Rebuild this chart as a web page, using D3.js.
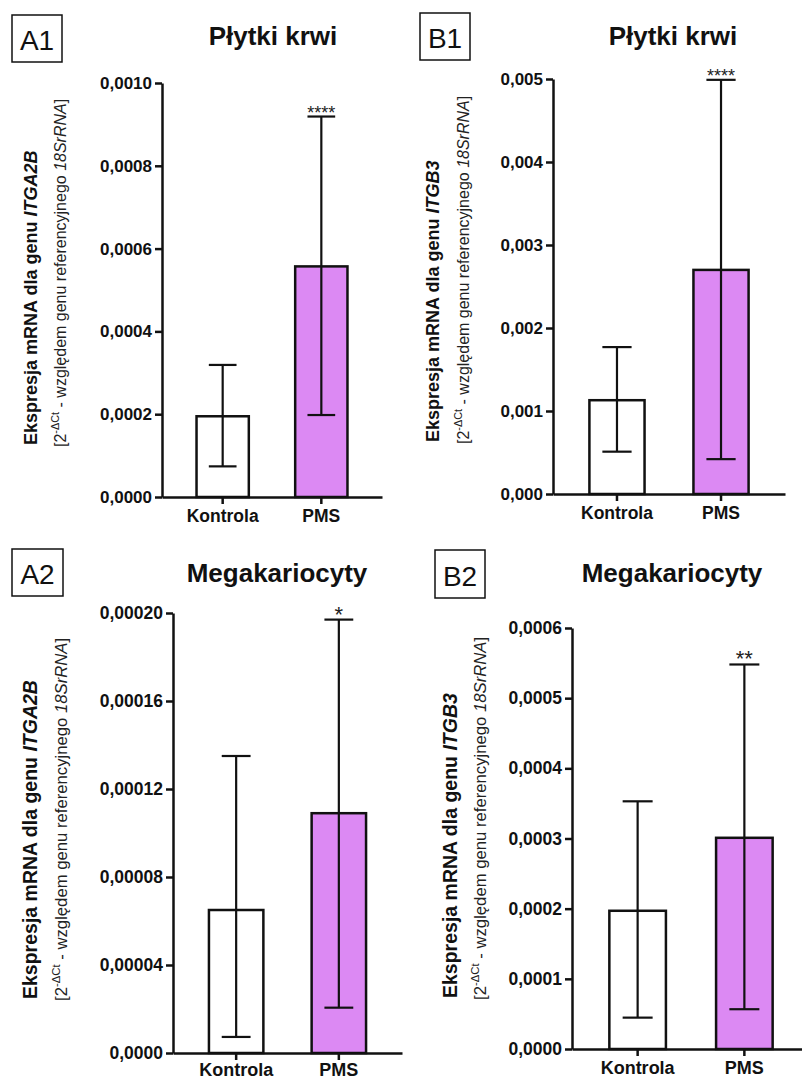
<!DOCTYPE html>
<html>
<head>
<meta charset="utf-8">
<script src="https://cdn.jsdelivr.net/npm/d3@7"></script>
<style>
  body { margin: 0; background: #fff; }
  svg { display: block; font-family: "Liberation Sans", Arial, sans-serif; }
</style>
</head>
<body>
<svg id="fig" width="802" height="1080"></svg>
<script>
var groups = ["Kontrola", "PMS"];

// A1: ITGA2B, płytki krwi
var a1Mean = [0.000195, 0.000557];
var a1Low = [0.000074, 0.000198];
var a1High = [0.000319, 0.000919];
var a1Ticks = [0, 0.0002, 0.0004, 0.0006, 0.0008, 0.0010];
var a1Labels = ["0,0000", "0,0002", "0,0004", "0,0006", "0,0008", "0,0010"];

// B1: ITGB3, płytki krwi
var b1Mean = [0.00113, 0.00270];
var b1Low = [0.00051, 0.00042];
var b1High = [0.00177, 0.00499];
var b1Ticks = [0, 0.001, 0.002, 0.003, 0.004, 0.005];
var b1Labels = ["0,000", "0,001", "0,002", "0,003", "0,004", "0,005"];

// A2: ITGA2B, megakariocyty
var a2Mean = [0.000065, 0.000109];
var a2Low = [0.0000073, 0.0000206];
var a2High = [0.000135, 0.000197];
var a2Ticks = [0, 0.00004, 0.00008, 0.00012, 0.00016, 0.00020];
var a2Labels = ["0,0000", "0,00004", "0,00008", "0,00012", "0,00016", "0,00020"];

// B2: ITGB3, megakariocyty
var b2Mean = [0.000197, 0.000301];
var b2Low = [0.0000447, 0.0000567];
var b2High = [0.000353, 0.000548];
var b2Ticks = [0, 0.0001, 0.0002, 0.0003, 0.0004, 0.0005, 0.0006];
var b2Labels = ["0,0000", "0,0001", "0,0002", "0,0003", "0,0004", "0,0005", "0,0006"];

var stars = ["****", "****", "*", "**"];
var fills = ["#ffffff", "#dc89f3"];

var panels = [
  {tag: "A1", title: "Płytki krwi", gene: "ITGA2B", mean: a1Mean, low: a1Low, high: a1High,
   ticks: a1Ticks, labels: a1Labels, star: stars[0],
   x0: 162, x1: 382, y0: 497, y1: 83, outer: 0.35, xPad: 6,
   box: [12, 15, 50, 47], tagY: 50, titleX: 273, titleY: 45,
   lab1X: 37, lab2X: 66, labY: 445, f1: 18, f2: 16, tick: 17, starSize: 18, titleSize: 26},
  {tag: "B1", title: "Płytki krwi", gene: "ITGB3", mean: b1Mean, low: b1Low, high: b1High,
   ticks: b1Ticks, labels: b1Labels, star: stars[1],
   x0: 553, x1: 785, y0: 494, y1: 79, outer: 0.35, xPad: 6,
   box: [420, 13, 50, 47], tagY: 48, titleX: 673, titleY: 45,
   lab1X: 439, lab2X: 469, labY: 442, f1: 18, f2: 16, tick: 17, starSize: 18, titleSize: 26},
  {tag: "A2", title: "Megakariocyty", gene: "ITGA2B", mean: a2Mean, low: a2Low, high: a2High,
   ticks: a2Ticks, labels: a2Labels, star: stars[2],
   x0: 173, x1: 402, y0: 1053, y1: 613, outer: 0.35, xPad: 3,
   box: [12, 549, 51, 47], tagY: 584, titleX: 277, titleY: 582,
   lab1X: 37, lab2X: 67, labY: 999, f1: 19.5, f2: 16.7, tick: 17.5, starSize: 22, titleSize: 26},
  {tag: "B2", title: "Megakariocyty", gene: "ITGB3", mean: b2Mean, low: b2Low, high: b2High,
   ticks: b2Ticks, labels: b2Labels, star: stars[3],
   x0: 572, x1: 810, y0: 1049, y1: 628, outer: 0.35, xPad: 5,
   box: [435, 550, 50, 48], tagY: 586, titleX: 672, titleY: 582,
   lab1X: 457, lab2X: 486, labY: 998, f1: 19.5, f2: 16.7, tick: 17.5, starSize: 22, titleSize: 26}
];

var svg = d3.select("#fig");

function drawPanel(p) {
  var g = svg.append("g");

  var y = d3.scaleLinear()
    .domain([0, p.ticks[p.ticks.length - 1]])
    .range([p.y0, p.y1]);
  var x = d3.scaleBand()
    .domain(groups)
    .range([p.x0, p.x1])
    .paddingInner(0.47)
    .paddingOuter(p.outer);
  var bw = x.bandwidth();
  var capW = bw * 0.53;

  var rows = groups.map(function(c, i) {
    return {cat: c, mean: p.mean[i], low: p.low[i], high: p.high[i], fill: fills[i]};
  });

  // bars
  g.selectAll("rect.bar").data(rows).enter().append("rect")
    .attr("class", "bar")
    .attr("x", function(d) { return x(d.cat); })
    .attr("y", function(d) { return y(d.mean); })
    .attr("width", bw)
    .attr("height", function(d) { return y(0) - y(d.mean); })
    .attr("fill", function(d) { return d.fill; })
    .attr("stroke", "#111")
    .attr("stroke-width", 2.5);

  // error bars
  var eb = g.selectAll("g.err").data(rows).enter().append("g")
    .attr("class", "err")
    .attr("stroke", "#111")
    .attr("stroke-width", 2.2);
  eb.append("line")
    .attr("x1", function(d) { return x(d.cat) + bw / 2; })
    .attr("x2", function(d) { return x(d.cat) + bw / 2; })
    .attr("y1", function(d) { return y(d.low); })
    .attr("y2", function(d) { return y(d.high); });
  ["low", "high"].forEach(function(k) {
    eb.append("line")
      .attr("x1", function(d) { return x(d.cat) + bw / 2 - capW / 2; })
      .attr("x2", function(d) { return x(d.cat) + bw / 2 + capW / 2; })
      .attr("y1", function(d) { return y(d[k]); })
      .attr("y2", function(d) { return y(d[k]); });
  });

  // significance stars over PMS
  g.append("text")
    .attr("x", x("PMS") + bw / 2)
    .attr("y", y(p.high[1]) + 2)
    .attr("text-anchor", "middle")
    .attr("font-size", p.starSize)
    .attr("fill", "#222")
    .text(p.star);

  // axes
  var yAxis = d3.axisLeft(y)
    .tickValues(p.ticks)
    .tickFormat(function(d, i) { return p.labels[i]; })
    .tickSize(7).tickSizeOuter(0).tickPadding(3);
  var ya = g.append("g").attr("transform", "translate(" + p.x0 + ",0)").call(yAxis);

  var xAxis = d3.axisBottom(x).tickSize(7).tickSizeOuter(0).tickPadding(p.xPad);
  var xa = g.append("g").attr("transform", "translate(0," + p.y0 + ")").call(xAxis);

  [ya, xa].forEach(function(a) {
    a.selectAll("path, line").attr("stroke", "#111").attr("stroke-width", 2.5);
    a.selectAll("text")
      .attr("fill", "#111")
      .attr("font-family", "Liberation Sans, Arial, sans-serif")
      .attr("font-weight", "bold")
      .attr("font-size", p.tick);
  });
  xa.selectAll("text").attr("font-size", p.tick + 0.5);

  // title
  g.append("text")
    .attr("x", p.titleX)
    .attr("y", p.titleY)
    .attr("text-anchor", "middle")
    .attr("font-weight", "bold")
    .attr("font-size", p.titleSize)
    .attr("fill", "#111")
    .text(p.title);

  // panel tag box
  g.append("rect")
    .attr("x", p.box[0]).attr("y", p.box[1])
    .attr("width", p.box[2]).attr("height", p.box[3])
    .attr("fill", "none")
    .attr("stroke", "#111")
    .attr("stroke-width", 1.5);
  g.append("text")
    .attr("x", p.box[0] + p.box[2] / 2)
    .attr("y", p.tagY)
    .attr("text-anchor", "middle")
    .attr("font-size", 28)
    .attr("fill", "#111")
    .text(p.tag);

  // y axis titles (two lines, rotated)
  var l1 = g.append("text")
    .attr("transform", "translate(" + p.lab1X + "," + p.labY + ") rotate(-90)")
    .attr("font-weight", "bold")
    .attr("font-size", p.f1)
    .attr("fill", "#111");
  l1.append("tspan").text("Ekspresja mRNA dla genu ");
  l1.append("tspan").attr("font-style", "italic").text(p.gene);

  var l2 = g.append("text")
    .attr("transform", "translate(" + p.lab2X + "," + (p.labY + 2) + ") rotate(-90)")
    .attr("font-size", p.f2)
    .attr("fill", "#222");
  l2.append("tspan").text("[2");
  l2.append("tspan").attr("font-size", p.f2 * 0.68).attr("dy", -p.f2 * 0.42).text("-ΔCt");
  l2.append("tspan").attr("dy", p.f2 * 0.42).text(" - względem genu referencyjnego  ");
  l2.append("tspan").attr("font-style", "italic").text("18SrRNA");
  l2.append("tspan").text("]");
}

panels.forEach(drawPanel);
</script>
</body>
</html>
